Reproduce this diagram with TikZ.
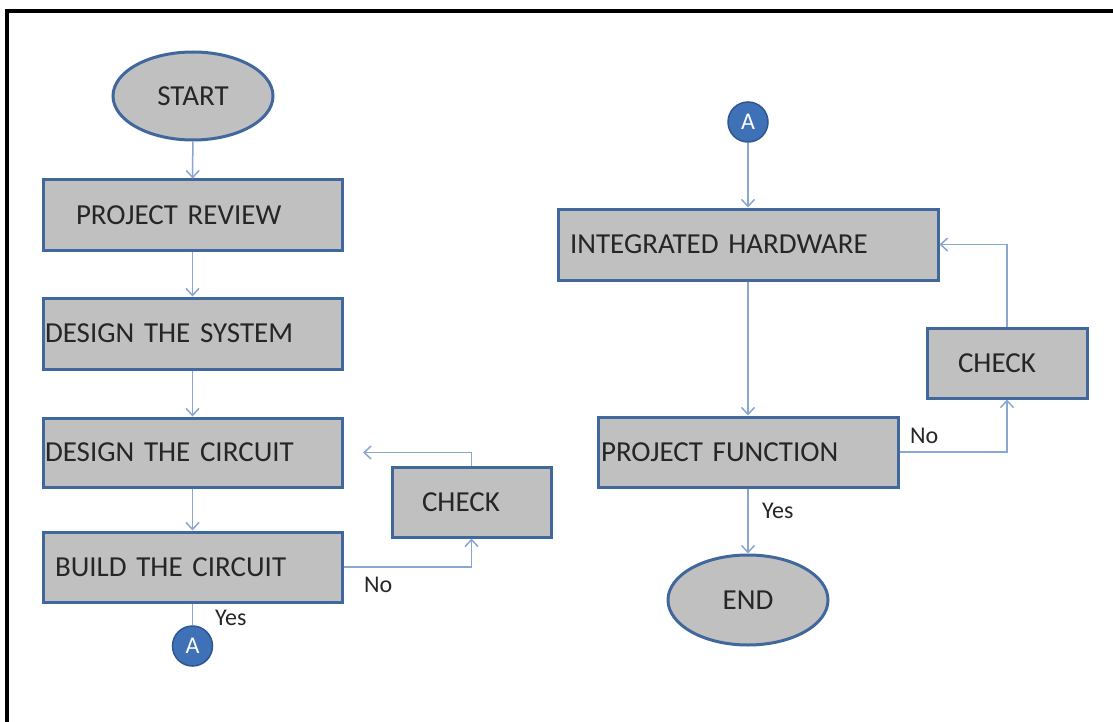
\documentclass[tikz,border=0pt]{standalone}
\usepackage{fontspec}
\setmainfont{Carlito}
\usetikzlibrary{shapes.geometric,arrows.meta}

\definecolor{boxfill}{HTML}{C0C0C0}
\definecolor{boxedge}{HTML}{41689C}
\definecolor{linkcol}{HTML}{8AA6D2}
\definecolor{dotfill}{HTML}{3F71B7}
\definecolor{dotedge}{HTML}{2E5690}
\definecolor{inktext}{HTML}{262626}

\begin{document}
\begin{tikzpicture}[x=1pt,y=-1pt,
  stepbox/.style 2 args={rectangle, draw=boxedge, line width=3pt, fill=boxfill,
    inner xsep=0pt, inner ysep=0pt, text width=#1, minimum height=#2,
    align=left, text=inktext, font=\fontsize{29}{32}\selectfont},
  terminal/.style={ellipse, draw=boxedge, line width=3pt, fill=boxfill,
    minimum width=160pt, minimum height=88pt, inner sep=0pt,
    text=inktext, font=\fontsize{29}{32}\selectfont},
  joint/.style={circle, fill=dotfill, draw=dotedge, line width=1.5pt,
    minimum size=40pt, inner sep=0pt, text=white,
    font=\fontsize{24}{24}\selectfont},
  link/.style={draw=linkcol, line width=1.5pt},
  flow/.style={link, -{Straight Barb[length=7pt,width=13pt]}},
  lbl/.style={anchor=base west, inner sep=0pt, text=inktext,
    font=\fontsize{24}{24}\selectfont}]

\useasboundingbox (0,0) rectangle (1113,722);

% page frame (top and left edges)
\draw[line width=4pt, black] (7,722) -- (7,11) -- (1113,11);

% ---------- left column ----------
\node[terminal] (start) at (193,96) {START};
\node[stepbox={299pt}{70pt}] (review) at (192.5,215) {\hspace*{33pt}PROJECT REVIEW};
\node[stepbox={299pt}{71pt}] (system) at (192.5,333.5) {\hspace*{2pt}DESIGN THE SYSTEM};
\node[stepbox={299pt}{69pt}] (dcirc) at (192.5,452.5) {\hspace*{2pt}DESIGN THE CIRCUIT};
\node[stepbox={299pt}{70pt}] (bcirc) at (192.5,567) {\hspace*{12pt}BUILD THE CIRCUIT};
\node[stepbox={159pt}{70pt}] (checkL) at (471.5,502) {\hspace*{30pt}CHECK};
\node[joint] (aL) at (192.5,646) {A};
\coordinate (backL) at (363,452.5);

\draw[flow] (start) -- (review);
\draw[flow] (review) -- (system);
\draw[flow] (system) -- (dcirc);
\draw[flow] (dcirc) -- (bcirc);
\draw[link] (bcirc) -- (aL);
\draw[flow] (bcirc.east) -| (checkL.south);
\draw[flow] (checkL.north) |- (backL);

\node[lbl] (yesL) at (215,625) {Yes};
\node[lbl] (noL) at (364,592) {No};

% ---------- right column ----------
\node[joint] (aR) at (748,122) {A};
\node[stepbox={380pt}{71pt}] (hw) at (748,244.5) {\hspace*{12pt}INTEGRATED HARDWARE};
\node[stepbox={300pt}{70pt}] (func) at (748,452) {\hspace*{3pt}PROJECT FUNCTION};
\node[stepbox={160pt}{70pt}] (checkR) at (1007,363) {\hspace*{31pt}CHECK};
\node[terminal, minimum height=90pt] (finish) at (748,600) {END};

\draw[flow] (aR) -- (hw);
\draw[flow] (hw) -- (func);
\draw[flow] (func) -- (finish);
\draw[flow] (func.east) -| (checkR.south);
\draw[flow] (checkR.north) |- (hw.east);

\node[lbl] (noR) at (910,443) {No};
\node[lbl] (yesR) at (762,518) {Yes};

\end{tikzpicture}
\end{document}
